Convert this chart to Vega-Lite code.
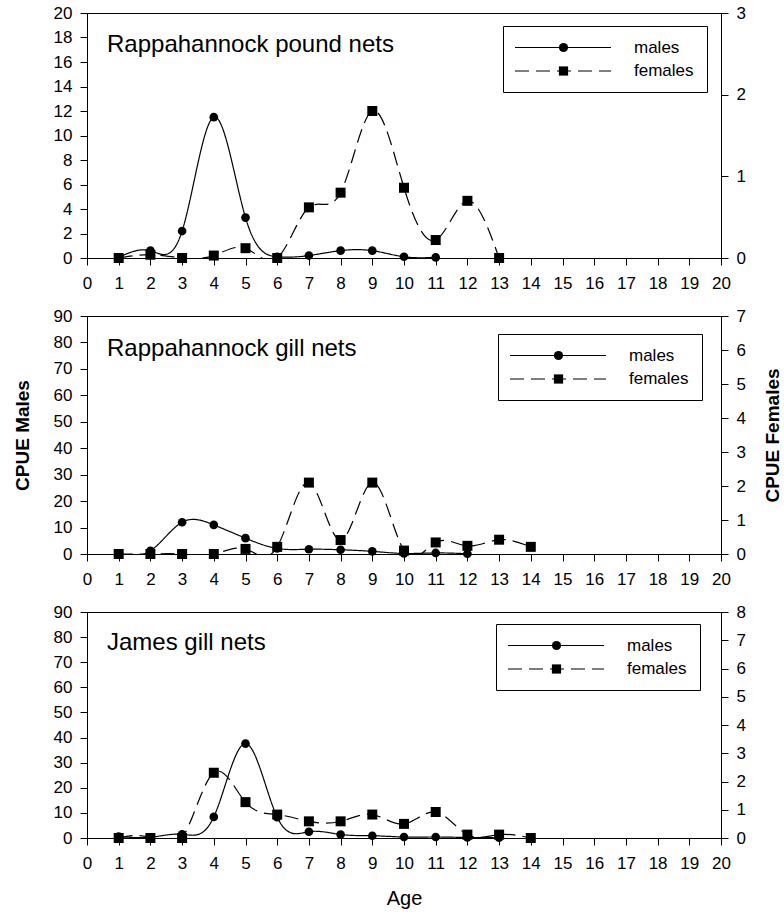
{
  "$schema": "https://vega.github.io/schema/vega-lite/v6.json",
  "background": "white",
  "padding": {"left": 12, "top": 3, "right": 5, "bottom": 5},
  "config": {
    "font": "Liberation Sans",
    "view": {"stroke": "black", "strokeWidth": 1},
    "axis": {
      "grid": false, "domainColor": "black", "tickColor": "black", "labelColor": "black",
      "titleColor": "black", "labelFont": "Liberation Sans", "titleFont": "Liberation Sans",
      "labelFontSize": 17, "tickSize": 7, "labelPadding": 6, "domainWidth": 1, "tickWidth": 1
    },
    "legend": {"labelFont": "Liberation Sans", "labelFontSize": 17, "labelColor": "black", "padding": 13, "rowPadding": 5.5, "title": null},
    "title": {"font": "Liberation Sans", "fontSize": 24, "fontWeight": "normal", "color": "black"}
  },
  "data": {"values": [
    {"p": "pound", "sex": "males", "age": 1, "cpue": 0.05},
    {"p": "pound", "sex": "males", "age": 2, "cpue": 0.6},
    {"p": "pound", "sex": "males", "age": 3, "cpue": 2.2},
    {"p": "pound", "sex": "males", "age": 4, "cpue": 11.5},
    {"p": "pound", "sex": "males", "age": 5, "cpue": 3.3},
    {"p": "pound", "sex": "males", "age": 6, "cpue": 0.1},
    {"p": "pound", "sex": "males", "age": 7, "cpue": 0.2},
    {"p": "pound", "sex": "males", "age": 8, "cpue": 0.6},
    {"p": "pound", "sex": "males", "age": 9, "cpue": 0.6},
    {"p": "pound", "sex": "males", "age": 10, "cpue": 0.1},
    {"p": "pound", "sex": "males", "age": 11, "cpue": 0.05},
    {"p": "pound", "sex": "females", "age": 1, "cpue": 0},
    {"p": "pound", "sex": "females", "age": 2, "cpue": 0.04},
    {"p": "pound", "sex": "females", "age": 3, "cpue": 0},
    {"p": "pound", "sex": "females", "age": 4, "cpue": 0.03},
    {"p": "pound", "sex": "females", "age": 5, "cpue": 0.12},
    {"p": "pound", "sex": "females", "age": 6, "cpue": 0},
    {"p": "pound", "sex": "females", "age": 7, "cpue": 0.62},
    {"p": "pound", "sex": "females", "age": 8, "cpue": 0.8},
    {"p": "pound", "sex": "females", "age": 9, "cpue": 1.8},
    {"p": "pound", "sex": "females", "age": 10, "cpue": 0.86},
    {"p": "pound", "sex": "females", "age": 11, "cpue": 0.22},
    {"p": "pound", "sex": "females", "age": 12, "cpue": 0.7},
    {"p": "pound", "sex": "females", "age": 13, "cpue": 0},
    {"p": "rgill", "sex": "males", "age": 1, "cpue": 0},
    {"p": "rgill", "sex": "males", "age": 2, "cpue": 1.2},
    {"p": "rgill", "sex": "males", "age": 3, "cpue": 12},
    {"p": "rgill", "sex": "males", "age": 4, "cpue": 11},
    {"p": "rgill", "sex": "males", "age": 5, "cpue": 6},
    {"p": "rgill", "sex": "males", "age": 6, "cpue": 2.1},
    {"p": "rgill", "sex": "males", "age": 7, "cpue": 1.8},
    {"p": "rgill", "sex": "males", "age": 8, "cpue": 1.6},
    {"p": "rgill", "sex": "males", "age": 9, "cpue": 1},
    {"p": "rgill", "sex": "males", "age": 10, "cpue": 0.2},
    {"p": "rgill", "sex": "males", "age": 11, "cpue": 0.4},
    {"p": "rgill", "sex": "males", "age": 12, "cpue": 0.1},
    {"p": "rgill", "sex": "females", "age": 1, "cpue": 0},
    {"p": "rgill", "sex": "females", "age": 2, "cpue": 0},
    {"p": "rgill", "sex": "females", "age": 3, "cpue": 0},
    {"p": "rgill", "sex": "females", "age": 4, "cpue": 0},
    {"p": "rgill", "sex": "females", "age": 5, "cpue": 0.15},
    {"p": "rgill", "sex": "females", "age": 6, "cpue": 0.21},
    {"p": "rgill", "sex": "females", "age": 7, "cpue": 2.1},
    {"p": "rgill", "sex": "females", "age": 8, "cpue": 0.41},
    {"p": "rgill", "sex": "females", "age": 9, "cpue": 2.1},
    {"p": "rgill", "sex": "females", "age": 10, "cpue": 0.1},
    {"p": "rgill", "sex": "females", "age": 11, "cpue": 0.34},
    {"p": "rgill", "sex": "females", "age": 12, "cpue": 0.24},
    {"p": "rgill", "sex": "females", "age": 13, "cpue": 0.42},
    {"p": "rgill", "sex": "females", "age": 14, "cpue": 0.21},
    {"p": "james", "sex": "males", "age": 1, "cpue": 0.6},
    {"p": "james", "sex": "males", "age": 2, "cpue": 0.3},
    {"p": "james", "sex": "males", "age": 3, "cpue": 1.5},
    {"p": "james", "sex": "males", "age": 4, "cpue": 8.4},
    {"p": "james", "sex": "males", "age": 5, "cpue": 37.6},
    {"p": "james", "sex": "males", "age": 6, "cpue": 8.3},
    {"p": "james", "sex": "males", "age": 7, "cpue": 2.5},
    {"p": "james", "sex": "males", "age": 8, "cpue": 1.4},
    {"p": "james", "sex": "males", "age": 9, "cpue": 0.9},
    {"p": "james", "sex": "males", "age": 10, "cpue": 0.4},
    {"p": "james", "sex": "males", "age": 11, "cpue": 0.4},
    {"p": "james", "sex": "males", "age": 12, "cpue": 0.2},
    {"p": "james", "sex": "males", "age": 13, "cpue": 0.1},
    {"p": "james", "sex": "females", "age": 1, "cpue": 0},
    {"p": "james", "sex": "females", "age": 2, "cpue": 0},
    {"p": "james", "sex": "females", "age": 3, "cpue": 0},
    {"p": "james", "sex": "females", "age": 4, "cpue": 2.31},
    {"p": "james", "sex": "females", "age": 5, "cpue": 1.27},
    {"p": "james", "sex": "females", "age": 6, "cpue": 0.83},
    {"p": "james", "sex": "females", "age": 7, "cpue": 0.59},
    {"p": "james", "sex": "females", "age": 8, "cpue": 0.59},
    {"p": "james", "sex": "females", "age": 9, "cpue": 0.83},
    {"p": "james", "sex": "females", "age": 10, "cpue": 0.5},
    {"p": "james", "sex": "females", "age": 11, "cpue": 0.92},
    {"p": "james", "sex": "females", "age": 12, "cpue": 0.12},
    {"p": "james", "sex": "females", "age": 13, "cpue": 0.12},
    {"p": "james", "sex": "females", "age": 14, "cpue": 0}
  ]},
  "spacing": 58,
  "bounds": "flush",
  "resolve": {"scale": {"y": "independent", "strokeDash": "independent", "shape": "independent"}},
  "vconcat": [
    {
      "width": 634, "height": 245,
      "title": {"text": "Rappahannock pound nets", "anchor": "start", "frame": "group", "offset": -72, "dx": 20, "baseline": "alphabetic"},
      "transform": [{"filter": "datum.p === 'pound'"}],
      "encoding": {"x": {"field": "age", "type": "quantitative", "scale": {"domain": [0, 20], "nice": false},
        "axis": {"values": [0,1,2,3,4,5,6,7,8,9,10,11,12,13,14,15,16,17,18,19,20], "title": null, "labelFlush": false, "labelPadding": 10}}},
      "layer": [
        {
          "transform": [{"filter": "datum.sex === 'males'"}],
          "encoding": {"y": {"field": "cpue", "type": "quantitative", "scale": {"domain": [0, 20], "nice": false},
            "axis": {"orient": "left", "values": [0,2,4,6,8,10,12,14,16,18,20], "title": null, "labelPadding": 8}}},
          "layer": [
            {"mark": {"type": "line", "interpolate": "natural", "color": "black", "strokeWidth": 1.2, "clip": true},
             "encoding": {"strokeDash": {"field": "sex", "type": "nominal", "sort": ["males", "females"], "scale": {"range": [[1, 0], [14, 7]]},
               "legend": {"orient": "none", "legendX": 416, "legendY": 13, "strokeColor": "black", "symbolType": "M-9.6,0H9.6",
                 "symbolSize": 100, "symbolStrokeWidth": 1.2, "symbolStrokeColor": "black", "symbolOffset": 38.5, "labelOffset": 62.5}}}},
            {"mark": {"type": "point", "filled": true, "color": "black", "size": 75, "opacity": 1},
             "encoding": {"shape": {"field": "sex", "type": "nominal", "scale": {"domain": ["males", "females"], "range": ["circle", "square"]},
               "legend": {"orient": "none", "legendX": 416, "legendY": 13, "symbolSize": 85, "symbolFillColor": "black", "symbolStrokeColor": "black", "symbolOffset": 39, "labelOpacity": 0, "labelOffset": 62.5}}}}
          ]
        },
        {
          "transform": [{"filter": "datum.sex === 'females'"}],
          "encoding": {"y": {"field": "cpue", "type": "quantitative", "scale": {"domain": [0, 3], "nice": false},
            "axis": {"orient": "right", "values": [0,1,2,3], "title": null, "labelPadding": 8}}},
          "layer": [
            {"mark": {"type": "line", "interpolate": "natural", "color": "black", "strokeWidth": 1.2, "clip": true},
             "encoding": {"strokeDash": {"field": "sex", "type": "nominal", "sort": ["males", "females"], "scale": {"range": [[1, 0], [14, 7]]}}}},
            {"mark": {"type": "point", "filled": true, "color": "black", "size": 100, "opacity": 1},
             "encoding": {"shape": {"field": "sex", "type": "nominal", "scale": {"domain": ["males", "females"], "range": ["circle", "square"]}}}}
          ]
        }
      ],
      "resolve": {"scale": {"y": "independent"}}
    },
    {
      "width": 634, "height": 238,
      "title": {"text": "Rappahannock gill nets", "anchor": "start", "frame": "group", "offset": -73, "dx": 20, "baseline": "alphabetic"},
      "transform": [{"filter": "datum.p === 'rgill'"}],
      "encoding": {"x": {"field": "age", "type": "quantitative", "scale": {"domain": [0, 20], "nice": false},
        "axis": {"values": [0,1,2,3,4,5,6,7,8,9,10,11,12,13,14,15,16,17,18,19,20], "title": null, "labelFlush": false, "labelPadding": 10}}},
      "layer": [
        {
          "transform": [{"filter": "datum.sex === 'males'"}],
          "encoding": {"y": {"field": "cpue", "type": "quantitative", "scale": {"domain": [0, 90], "nice": false},
            "axis": {"orient": "left", "values": [0,10,20,30,40,50,60,70,80,90], "title": "CPUE Males", "titleFontSize": 19, "titleFontWeight": "bold", "titlePadding": 21, "labelPadding": 8}}},
          "layer": [
            {"mark": {"type": "line", "interpolate": "natural", "color": "black", "strokeWidth": 1.2, "clip": true},
             "encoding": {"strokeDash": {"field": "sex", "type": "nominal", "sort": ["males", "females"], "scale": {"range": [[1, 0], [14, 7]]},
               "legend": {"orient": "none", "legendX": 411, "legendY": 18, "strokeColor": "black", "symbolType": "M-9.6,0H9.6",
                 "symbolSize": 100, "symbolStrokeWidth": 1.2, "symbolStrokeColor": "black", "symbolOffset": 38.5, "labelOffset": 62.5}}}},
            {"mark": {"type": "point", "filled": true, "color": "black", "size": 75, "opacity": 1},
             "encoding": {"shape": {"field": "sex", "type": "nominal", "scale": {"domain": ["males", "females"], "range": ["circle", "square"]},
               "legend": {"orient": "none", "legendX": 411, "legendY": 18, "symbolSize": 85, "symbolFillColor": "black", "symbolStrokeColor": "black", "symbolOffset": 39, "labelOpacity": 0, "labelOffset": 62.5}}}}
          ]
        },
        {
          "transform": [{"filter": "datum.sex === 'females'"}],
          "encoding": {"y": {"field": "cpue", "type": "quantitative", "scale": {"domain": [0, 7], "nice": false},
            "axis": {"orient": "right", "values": [0,1,2,3,4,5,6,7], "title": "CPUE Females", "titleAngle": 270, "titleFontSize": 19, "titleFontWeight": "bold", "titlePadding": 37, "labelPadding": 8}}},
          "layer": [
            {"mark": {"type": "line", "interpolate": "natural", "color": "black", "strokeWidth": 1.2, "clip": true},
             "encoding": {"strokeDash": {"field": "sex", "type": "nominal", "sort": ["males", "females"], "scale": {"range": [[1, 0], [14, 7]]}}}},
            {"mark": {"type": "point", "filled": true, "color": "black", "size": 100, "opacity": 1},
             "encoding": {"shape": {"field": "sex", "type": "nominal", "scale": {"domain": ["males", "females"], "range": ["circle", "square"]}}}}
          ]
        }
      ],
      "resolve": {"scale": {"y": "independent"}}
    },
    {
      "width": 634, "height": 226,
      "title": {"text": "James gill nets", "anchor": "start", "frame": "group", "offset": -71, "dx": 20, "baseline": "alphabetic"},
      "transform": [{"filter": "datum.p === 'james'"}],
      "encoding": {"x": {"field": "age", "type": "quantitative", "scale": {"domain": [0, 20], "nice": false},
        "axis": {"values": [0,1,2,3,4,5,6,7,8,9,10,11,12,13,14,15,16,17,18,19,20], "title": "Age", "titleFontSize": 20, "titleFontWeight": "normal", "titlePadding": 17, "labelFlush": false, "labelPadding": 10}}},
      "layer": [
        {
          "transform": [{"filter": "datum.sex === 'males'"}],
          "encoding": {"y": {"field": "cpue", "type": "quantitative", "scale": {"domain": [0, 90], "nice": false},
            "axis": {"orient": "left", "values": [0,10,20,30,40,50,60,70,80,90], "title": null, "labelPadding": 8}}},
          "layer": [
            {"mark": {"type": "line", "interpolate": "natural", "color": "black", "strokeWidth": 1.2, "clip": true},
             "encoding": {"strokeDash": {"field": "sex", "type": "nominal", "sort": ["males", "females"], "scale": {"range": [[1, 0], [14, 7]]},
               "legend": {"orient": "none", "legendX": 409, "legendY": 12, "strokeColor": "black", "symbolType": "M-9.6,0H9.6",
                 "symbolSize": 100, "symbolStrokeWidth": 1.2, "symbolStrokeColor": "black", "symbolOffset": 38.5, "labelOffset": 62.5}}}},
            {"mark": {"type": "point", "filled": true, "color": "black", "size": 75, "opacity": 1},
             "encoding": {"shape": {"field": "sex", "type": "nominal", "scale": {"domain": ["males", "females"], "range": ["circle", "square"]},
               "legend": {"orient": "none", "legendX": 409, "legendY": 12, "symbolSize": 85, "symbolFillColor": "black", "symbolStrokeColor": "black", "symbolOffset": 39, "labelOpacity": 0, "labelOffset": 62.5}}}}
          ]
        },
        {
          "transform": [{"filter": "datum.sex === 'females'"}],
          "encoding": {"y": {"field": "cpue", "type": "quantitative", "scale": {"domain": [0, 8], "nice": false},
            "axis": {"orient": "right", "values": [0,1,2,3,4,5,6,7,8], "title": null, "labelPadding": 8}}},
          "layer": [
            {"mark": {"type": "line", "interpolate": "natural", "color": "black", "strokeWidth": 1.2, "clip": true},
             "encoding": {"strokeDash": {"field": "sex", "type": "nominal", "sort": ["males", "females"], "scale": {"range": [[1, 0], [14, 7]]}}}},
            {"mark": {"type": "point", "filled": true, "color": "black", "size": 100, "opacity": 1},
             "encoding": {"shape": {"field": "sex", "type": "nominal", "scale": {"domain": ["males", "females"], "range": ["circle", "square"]}}}}
          ]
        }
      ],
      "resolve": {"scale": {"y": "independent"}}
    }
  ]
}
